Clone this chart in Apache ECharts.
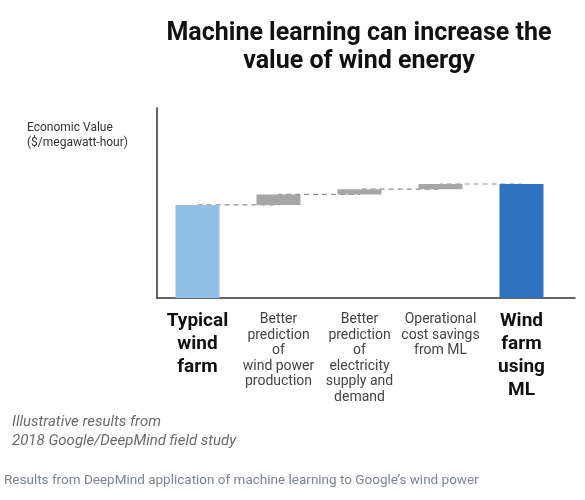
<!DOCTYPE html>
<html>
<head>
  <meta charset="UTF-8">
  <title>wind energy waterfall</title>
  <script src="https://cdn.jsdelivr.net/npm/echarts@6/dist/echarts.min.js"></script>
  <style>
    html, body { margin: 0; padding: 0; background: #ffffff; }
    #chart { width: 585px; height: 500px; }
  </style>
</head>
<body>
<div id="chart"></div>
<script>
// categories along the bottom (totals are bold)
var categories = [
  'Typical\nwind\nfarm',
  'Better\nprediction\nof\nwind power\nproduction',
  'Better\nprediction\nof\nelectricity\nsupply and\ndemand',
  'Operational\ncost savings\nfrom ML',
  'Wind\nfarm\nusing\nML'
];
var isTotal = [true, false, false, false, true];

// economic value, arbitrary units (axis 0-100)
var baseValue = 49;
var increments = [5.5, 2.8, 2.7];

// build waterfall series
var running = baseValue;
var helper = [0];
var shown = [baseValue];
var levels = [baseValue];
for (var i = 0; i < increments.length; i++) {
  helper.push(running);
  shown.push(increments[i]);
  running += increments[i];
  levels.push(running);
}
helper.push(0);
shown.push(running);
levels.push(running);

var barColors = ['#92bfe5', '#a6a6a6', '#a6a6a6', '#a6a6a6', '#2f72c2'];

var shownData = shown.map(function (v, i) {
  return { value: v, itemStyle: { color: barColors[i] } };
});

var catData = categories.map(function (c, i) {
  if (isTotal[i]) {
    return { value: c, textStyle: { fontSize: 19, fontWeight: 'bold', lineHeight: 23, color: '#111' } };
  }
  return { value: c, textStyle: { fontSize: 14, lineHeight: 15.5, color: '#444', padding: [2, 0, 0, 0] } };
});

var myChart = echarts.init(document.getElementById('chart'));

var option = {
  animation: false,
  backgroundColor: '#ffffff',
  textStyle: { fontFamily: 'Roboto' },
  title: [{
    text: 'Machine learning can increase the\nvalue of wind energy',
    left: 359,
    top: 20,
    padding: 0,
    textAlign: 'center',
    textStyle: { fontSize: 25, fontWeight: 'bold', color: '#111', lineHeight: 28, fontFamily: 'Roboto' }
  }, {
    text: 'Economic Value\n($/megawatt-hour)',
    left: 27,
    top: 120,
    padding: 0,
    textStyle: { fontSize: 12, fontWeight: 'normal', color: '#333', lineHeight: 15, fontFamily: 'Roboto' }
  }, {
    text: 'Illustrative results from\n2018 Google/DeepMind field study',
    left: 12,
    top: 413,
    padding: 0,
    textStyle: { fontSize: 15, fontWeight: 'normal', fontStyle: 'italic', color: '#6b6b6b', lineHeight: 19, fontFamily: 'Roboto' }
  }, {
    text: 'Results from DeepMind application of machine learning to Google\u2019s wind power',
    left: 4,
    top: 474,
    padding: 0,
    textStyle: { fontSize: 13.5, fontWeight: 'normal', color: '#7c8591', fontFamily: 'Roboto' }
  }],
  grid: [
    { left: 157, top: 108, width: 405, bottom: 202, containLabel: false },
    { left: 157, top: 108, right: 10, bottom: 202, containLabel: false }
  ],
  xAxis: [{
    type: 'category',
    gridIndex: 0,
    data: catData,
    axisLine: { show: false },
    axisTick: { show: false },
    axisLabel: { interval: 0, margin: 12, fontFamily: 'Roboto' }
  }, {
    type: 'value',
    gridIndex: 1,
    min: 0,
    max: 1,
    axisLine: { show: true, lineStyle: { color: '#333', width: 1.5 } },
    axisTick: { show: false },
    axisLabel: { show: false },
    splitLine: { show: false }
  }],
  yAxis: [{
    type: 'value',
    gridIndex: 0,
    min: 0,
    max: 100,
    axisLine: { show: true, lineStyle: { color: '#333', width: 1.5 } },
    axisTick: { show: false },
    axisLabel: { show: false },
    splitLine: { show: false }
  }, {
    type: 'value',
    gridIndex: 1,
    show: false
  }],
  series: [{
    type: 'line',
    xAxisIndex: 0,
    yAxisIndex: 0,
    step: 'end',
    data: levels,
    symbol: 'none',
    z: 1,
    lineStyle: { color: '#8f8f8f', width: 1.2, type: [5, 4] }
  }, {
    type: 'bar',
    stack: 'wf',
    xAxisIndex: 0,
    yAxisIndex: 0,
    barWidth: 44,
    data: helper,
    z: 3,
    itemStyle: { color: 'transparent' }
  }, {
    type: 'bar',
    stack: 'wf',
    xAxisIndex: 0,
    yAxisIndex: 0,
    barWidth: 44,
    data: shownData,
    z: 3
  }]
};
myChart.setOption(option);
</script>
</body>
</html>
